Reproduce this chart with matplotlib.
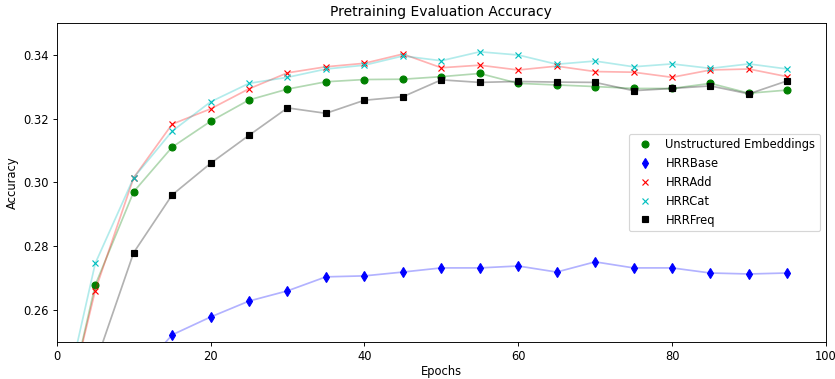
import matplotlib
matplotlib.use("Agg")
import matplotlib.pyplot as plt

epochs = [0, 5, 10, 15, 20, 25, 30, 35, 40, 45, 50, 55, 60, 65, 70, 75, 80, 85, 90, 95]

unstructured = [0.215, 0.2678, 0.2971, 0.3111, 0.3192, 0.3259, 0.3293, 0.3316, 0.3323, 0.3324,
                0.3332, 0.3342, 0.3311, 0.3306, 0.3301, 0.3295, 0.3295, 0.3311, 0.3280, 0.3290]
hrr_base = [0.200, 0.220, 0.2385, 0.2522, 0.2578, 0.2628, 0.2660, 0.2704, 0.2707, 0.2719,
            0.2732, 0.2732, 0.2738, 0.2719, 0.2751, 0.2732, 0.2732, 0.2716, 0.2713, 0.2716]
hrr_add = [0.216, 0.2661, 0.3015, 0.3183, 0.3231, 0.3294, 0.3344, 0.3363, 0.3374, 0.3403,
           0.3360, 0.3368, 0.3353, 0.3365, 0.3348, 0.3346, 0.3330, 0.3353, 0.3356, 0.3332]
hrr_cat = [0.221, 0.2746, 0.3015, 0.3161, 0.3253, 0.3311, 0.3330, 0.3356, 0.3368, 0.3397,
           0.3382, 0.3410, 0.3400, 0.3371, 0.3381, 0.3363, 0.3372, 0.3358, 0.3372, 0.3356]
hrr_freq = [0.200, 0.243, 0.2780, 0.2961, 0.3060, 0.3148, 0.3234, 0.3217, 0.3258, 0.3269,
            0.3322, 0.3314, 0.3317, 0.3315, 0.3314, 0.3288, 0.3295, 0.3303, 0.3278, 0.3319]

series = [
    ("Unstructured Embeddings", unstructured, "green", "o"),
    ("HRRBase", hrr_base, "blue", "d"),
    ("HRRAdd", hrr_add, "red", "x"),
    ("HRRCat", hrr_cat, "c", "x"),
    ("HRRFreq", hrr_freq, "black", "s"),
]

DPI = 83
fig = plt.figure(figsize=(835 / DPI, 379 / DPI), dpi=DPI)
ax = fig.add_axes([0.068, 0.098, 0.921, 0.841])

for label, vals, color, marker in series:
    ax.plot(epochs, vals, color=color, alpha=0.3, linewidth=1.5)
    ax.plot(epochs, vals, linestyle="none", marker=marker, color=color,
            markersize=6, label=label)

ax.set_xlim(0, 100)
ax.set_ylim(0.25, 0.35)
ax.set_yticks([0.26, 0.28, 0.30, 0.32, 0.34])
ax.set_xlabel("Epochs", labelpad=2)
ax.set_ylabel("Accuracy")
ax.set_title("Pretraining Evaluation Accuracy")
ax.legend(loc="center right")

fig.savefig("out.png", dpi=DPI)
